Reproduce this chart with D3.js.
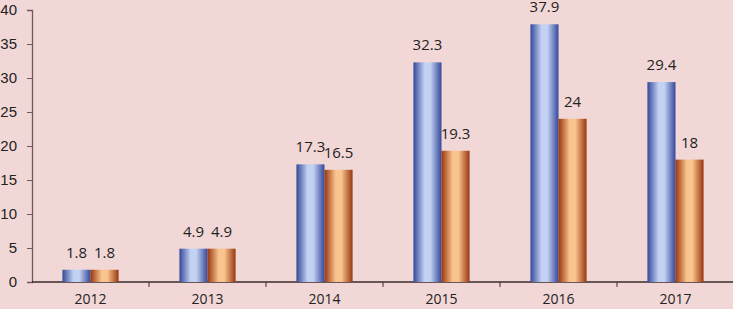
<!DOCTYPE html>
<html>
<head>
<meta charset="utf-8">
<script src="https://cdn.jsdelivr.net/npm/d3@7"></script>
<style>
  html, body { margin: 0; padding: 0; background: #f2d7d7; }
  svg { display: block; font-family: "Open Sans", "Liberation Sans", sans-serif; }
</style>
</head>
<body>
<div id="vis"></div>
<script>
const width = 733;
const height = 309;

const years = ["2012", "2013", "2014", "2015", "2016", "2017"];
const seriesA = [1.8, 4.9, 17.3, 32.3, 37.9, 29.4];
const seriesB = [1.8, 4.9, 16.5, 19.3, 24, 18];
const yTicks = [0, 5, 10, 15, 20, 25, 30, 35, 40];

const margin = { top: 10, right: 0, bottom: 27, left: 32 };

const svg = d3.select("#vis")
  .append("svg")
  .attr("width", width)
  .attr("height", height);

svg.append("rect")
  .attr("width", width)
  .attr("height", height)
  .attr("fill", "#f2d7d7");

// gradients for the cylinder-ish bars
const defs = svg.append("defs");
function addGrad(id, edge, mid) {
  const gr = defs.append("linearGradient")
    .attr("id", id)
    .attr("x1", "0%").attr("x2", "100%")
    .attr("y1", "0%").attr("y2", "0%");
  gr.append("stop").attr("offset", "0%").attr("stop-color", edge);
  gr.append("stop").attr("offset", "40%").attr("stop-color", mid);
  gr.append("stop").attr("offset", "60%").attr("stop-color", mid);
  gr.append("stop").attr("offset", "100%").attr("stop-color", edge);
}
addGrad("gradBlue", "#34489a", "#c3d2f2");
addGrad("gradOrange", "#98360f", "#f9c48e");

const x = d3.scaleBand()
  .domain(years)
  .range([margin.left, width - margin.right + 1]);

const y = d3.scaleLinear()
  .domain([0, 40])
  .range([height - margin.bottom, margin.top]);

const barW = x.bandwidth() * 0.24;

// y axis
const yAxis = svg.append("g")
  .attr("transform", `translate(${margin.left},0)`)
  .call(d3.axisLeft(y).tickValues(yTicks).tickSize(5).tickPadding(10));
yAxis.select(".domain").attr("stroke", "#6e5858").attr("stroke-width", 1.3);
yAxis.selectAll(".tick line").attr("stroke", "#6e5858");
yAxis.selectAll("text").attr("fill", "#222").style("font-size", "15px");

// x axis, ticks on band boundaries
const xAxisG = svg.append("g")
  .attr("transform", `translate(0,${y(0)})`);
xAxisG.append("line")
  .attr("x1", margin.left).attr("x2", width)
  .attr("stroke", "#3a2a2a").attr("stroke-width", 1.3);
xAxisG.selectAll("line.tk")
  .data(years.slice(1))
  .join("line")
  .attr("class", "tk")
  .attr("x1", d => x(d)).attr("x2", d => x(d))
  .attr("y1", 0).attr("y2", 5)
  .attr("stroke", "#3a2a2a");
xAxisG.selectAll("text")
  .data(years)
  .join("text")
  .attr("x", d => x(d) + x.bandwidth() / 2)
  .attr("y", 22)
  .attr("text-anchor", "middle")
  .attr("fill", "#222")
  .style("font-size", "14px")
  .text(d => d);

// bars
const groups = [
  { vals: seriesA, fill: "url(#gradBlue)", off: -barW },
  { vals: seriesB, fill: "url(#gradOrange)", off: 0 }
];

groups.forEach(s => {
  svg.append("g").selectAll("rect")
    .data(years)
    .join("rect")
    .attr("x", (d, i) => x(d) + x.bandwidth() / 2 + s.off)
    .attr("y", (d, i) => y(s.vals[i]))
    .attr("width", barW)
    .attr("height", (d, i) => y(0) - y(s.vals[i]))
    .attr("fill", s.fill);

  svg.append("g").selectAll("text")
    .data(years)
    .join("text")
    .attr("x", (d, i) => x(d) + x.bandwidth() / 2 + s.off + barW / 2)
    .attr("y", (d, i) => y(s.vals[i]) - 12)
    .attr("text-anchor", "middle")
    .attr("fill", "#222")
    .style("font-size", "15px")
    .text((d, i) => s.vals[i]);
});
</script>
</body>
</html>
